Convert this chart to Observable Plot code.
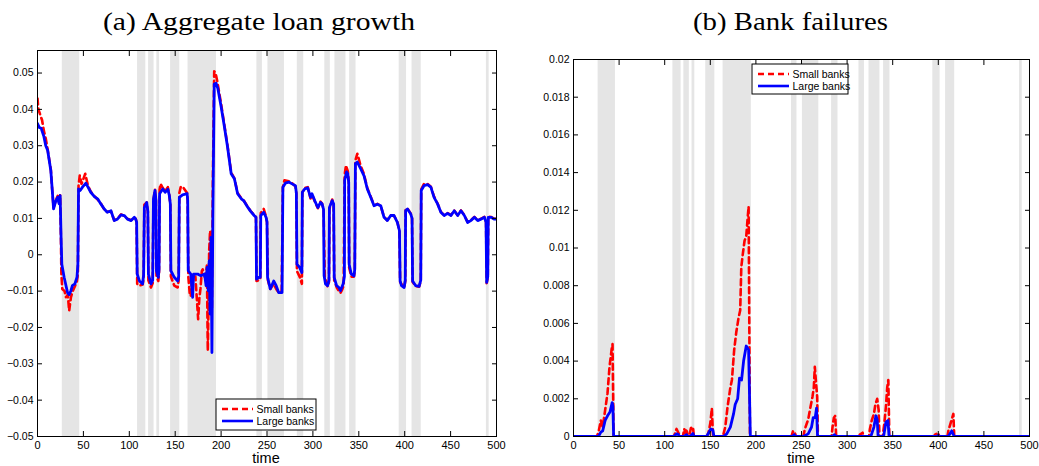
<!DOCTYPE html>
<html>
<head>
<meta charset="utf-8">
<script src="https://cdn.jsdelivr.net/npm/d3@7"></script>
<script src="https://cdn.jsdelivr.net/npm/@observablehq/plot@0.6"></script>
<style>
  html, body { margin: 0; padding: 0; background: #fff; }
  #wrap { position: relative; width: 1039px; height: 466px; overflow: hidden; background: #fff; }
  #wrap > svg, #wrap > div { position: absolute; }
</style>
</head>
<body>
<div id="wrap"></div>
<script>
// ---------- Data ----------
const recessionStart = [27, 109, 121, 130, 145, 164, 239, 251, 283, 313, 324, 340, 394, 408, 489];
const recessionEnd   = [46, 118, 127, 133, 155, 195, 245, 269, 290, 319, 336, 347, 402, 418, 492];

const xTicks = [0, 50, 100, 150, 200, 250, 300, 350, 400, 450, 500];
const xTickLabels = ["0", "50", "100", "150", "200", "250", "300", "350", "400", "450", "500"];
const loanYTicks = [-0.05, -0.04, -0.03, -0.02, -0.01, 0, 0.01, 0.02, 0.03, 0.04, 0.05];
const loanYTickLabels = ["−0.05", "−0.04", "−0.03", "−0.02", "−0.01", "0", "0.01", "0.02", "0.03", "0.04", "0.05"];
const failYTicks = [0, 0.002, 0.004, 0.006, 0.008, 0.01, 0.012, 0.014, 0.016, 0.018, 0.02];
const failYTickLabels = ["0", "0.002", "0.004", "0.006", "0.008", "0.01", "0.012", "0.014", "0.016", "0.018", "0.02"];

const seriesNames = ["Small banks", "Large banks"];

// (a) Aggregate loan growth — large banks
const loanTimeLarge = [0, 2, 4, 7, 9, 11, 14.5, 16, 17.5, 19, 20, 22, 23, 23.6, 24.7, 25.5, 26.5, 29, 32.7, 34.5, 36.4, 38, 40.7, 43, 44,
  44.7, 46.5, 49, 52.7, 55, 58, 62, 65.5, 69, 72.7, 76, 80, 83.6, 87, 91, 94.5, 98, 102, 105.5, 107, 108,
  108.6, 111, 114.5, 115.6, 116.4, 119, 120.2, 120.8, 123.6, 125.5, 126.3, 128, 129, 129.6, 131.6, 132.4,
  133, 136.4, 139, 142, 143.6, 144.7, 145.3, 149, 152.7, 153.8, 154.5, 158, 163, 163.6,
  164.2, 167, 169, 170, 174.5, 178, 182, 183.6, 184.7, 186, 187, 188, 189, 190, 191, 192.5,
  194.5, 196.4, 200, 203.6, 207, 211, 214.5, 218, 222, 224.5, 229, 232, 236, 238,
  238.6, 241, 242.7, 243.2, 246.4, 249, 250, 250.6, 253.6, 257.3, 260, 262.7, 266.4,
  267.3, 270, 273.7, 277.3, 281, 282, 282.6, 285.5, 288, 288.5, 291, 294.4, 297.4, 299, 302.8, 305.4, 308.3, 310, 311.6,
  312.2, 313.7, 316, 317.5, 318, 321, 322.6, 323.2, 325.8, 328.3, 330, 333, 334.3,
  334.6, 336.7, 338, 339, 339.5, 341.8, 344.7, 345.6,
  346.3, 348.4, 352, 355.6, 359.3, 363, 366.6, 370.2, 373.9, 377.5, 381, 384.8, 388.4, 392, 394.3,
  395, 396.5, 399.4, 400.6, 401, 403, 406.6, 408, 408.6, 412, 415.7, 417.5,
  418, 421, 424.8, 428.5, 432, 435.8, 439.4, 443, 446.7, 450.4, 454, 457.7, 461.3, 465, 468.5, 472, 475.9, 479.5, 483, 486.8, 488.6,
  489.3, 490.5, 491, 494, 497.7, 500];
const loanLarge = [0.0361, 0.0350, 0.0348, 0.0325, 0.0300, 0.0288, 0.0232, 0.0180, 0.0126, 0.0140, 0.0149, 0.0158, 0.0145, 0.0140, 0.0163, 0.0066, -0.0026, -0.0062, -0.0104, -0.0110, -0.0099, -0.0085, -0.0080, -0.0062, -0.0026,
  0.0181, 0.0177, 0.0186, 0.0197, 0.0186, 0.0172, 0.0160, 0.0154, 0.0140, 0.0126, 0.0117, 0.0121, 0.0094, 0.0098, 0.0110, 0.0108, 0.0098, 0.0094, 0.0103, 0.0098, 0.0090,
  -0.0053, -0.0072, -0.0080, -0.0055, 0.0130, 0.0144, 0.0120, -0.0053, -0.0080, -0.0070, 0.0153, 0.0177, 0.0150, -0.0044, -0.0062, -0.0040,
  0.0168, 0.0181, 0.0172, 0.0180, 0.0163, 0.0140, -0.0044, -0.0062, -0.0072, -0.0060, 0.0158, 0.0165, 0.0168, 0.0150,
  -0.0044, -0.0053, -0.0117, -0.0053, -0.0053, -0.0058, -0.0053, -0.0085, -0.0035, -0.0099, -0.0017, -0.0163, 0.0048, -0.0269, 0.0100, 0.0470,
  0.0472, 0.0458, 0.0408, 0.0352, 0.0297, 0.0223, 0.0209, 0.0168, 0.0154, 0.0149, 0.0131, 0.0120, 0.0108, 0.0103,
  -0.0067, -0.0062, -0.0062, 0.0108, 0.0117, 0.0103, 0.0090, -0.0062, -0.0094, -0.0072, -0.0085, -0.0104, -0.0104,
  0.0186, 0.0197, 0.0200, 0.0195, 0.0190, 0.0170, -0.0026, -0.0035, -0.0049, 0.0172, 0.0181, 0.0184, 0.0158, 0.0168, 0.0144, 0.0130, 0.0144, 0.0140, 0.0125,
  -0.0058, -0.0080, -0.0085, -0.0070, 0.0130, 0.0149, 0.0140, -0.0062, -0.0085, -0.0090, -0.0099, -0.0080, -0.0060,
  0.0205, 0.0228, 0.0223, 0.0200, -0.0026, -0.0053, -0.0058, -0.0040,
  0.0251, 0.0255, 0.0237, 0.0218, 0.0181, 0.0158, 0.0135, 0.0139, 0.0135, 0.0103, 0.0094, 0.0108, 0.0108, 0.0089, 0.0066,
  -0.0072, -0.0085, -0.0090, -0.0070, 0.0121, 0.0126, 0.0112, 0.0100, -0.0072, -0.0085, -0.0087, -0.0070,
  0.0177, 0.0190, 0.0193, 0.0186, 0.0158, 0.0140, 0.0117, 0.0108, 0.0114, 0.0108, 0.0121, 0.0108, 0.0121, 0.0108, 0.0089, 0.0094, 0.0103, 0.0094, 0.0098, 0.0103, 0.0090,
  -0.0076, -0.0060, 0.0103, 0.0103, 0.0098, 0.0098];

// (a) Aggregate loan growth — small banks
const loanTimeSmall = [0, 1, 3, 5, 7, 9, 11, 14.5, 16, 17.5, 20, 22, 23.6, 24.7, 25.5, 26, 27, 29.5, 31, 33, 34.5, 36.4, 38.5, 41, 43, 44,
  44.7, 46, 48, 52, 55, 58, 62, 65.5, 69, 72.7, 76, 80, 83.6, 87, 91, 94.5, 98, 102, 105.5, 107, 108,
  108.6, 111, 114.5, 115.6, 116.4, 119, 120.2, 120.8, 123.6, 125.5, 126.3, 128, 129, 129.6, 131.6, 132.4,
  133, 134, 136.4, 139, 142, 143.6, 144.7, 145.3, 149, 152.7, 153.8, 154.5, 156, 158, 163, 163.6,
  164.3, 166, 167, 168.5, 172, 175, 176.3, 177.5, 179, 180, 182, 183.6, 184.5, 185.5, 186.5, 187, 188, 189, 190, 191, 192.5,
  194, 196, 200, 203.6, 207, 211, 214.5, 218, 222, 224.5, 229, 232, 236, 238,
  238.6, 241, 242.7, 243.2, 246.4, 249, 250, 251, 253.6, 257.3, 260, 262.7, 266,
  267.3, 269, 273.7, 277.3, 281, 282, 282.6, 285.5, 288, 288.5, 291, 294.4, 297.4, 299, 302.8, 305.4, 308.3, 310, 311.6,
  313, 316, 317.5, 318, 321, 322.6, 323.2, 326, 328.3, 330, 332, 333.5,
  334.6, 336, 338, 339, 339.5, 341.8, 344.7, 345.6,
  346.3, 348.4, 352, 355.6, 359.3, 363, 366.6, 370.2, 373.9, 377.5, 381, 384.8, 388.4, 392, 394.3,
  395, 399.4, 400.6, 401, 403, 406.6, 408, 408.6, 412, 415.7, 417.5,
  418, 421, 424.8, 428.5, 432, 435.8, 439.4, 443, 446.7, 450.4, 454, 457.7, 461.3, 465, 468.5, 472, 475.9, 479.5, 483, 486.8, 488.6,
  489.3, 490.5, 491, 494, 497.7, 500];
const loanSmall = [0.0430, 0.0400, 0.0385, 0.0370, 0.0340, 0.0320, 0.0290, 0.0235, 0.0180, 0.0130, 0.0150, 0.0162, 0.0145, 0.0165, 0.0050, -0.0053, -0.0094, -0.0100, -0.0117, -0.0110, -0.0154, -0.0117, -0.0099, -0.0085, -0.0072, -0.0053,
  0.0190, 0.0218, 0.0195, 0.0223, 0.0190, 0.0174, 0.0161, 0.0152, 0.0141, 0.0125, 0.0118, 0.0120, 0.0095, 0.0099, 0.0111, 0.0107, 0.0099, 0.0095, 0.0102, 0.0099, 0.0088,
  -0.0080, -0.0085, -0.0082, -0.0065, 0.0138, 0.0144, 0.0118, -0.0070, -0.0090, -0.0078, 0.0150, 0.0180, 0.0148, -0.0060, -0.0072, -0.0050,
  0.0180, 0.0195, 0.0184, 0.0175, 0.0186, 0.0165, 0.0138, -0.0060, -0.0085, -0.0090, -0.0070, 0.0170, 0.0186, 0.0188, 0.0170, 0.0148,
  -0.0060, -0.0113, -0.0113, -0.0060, -0.0060, -0.0177, -0.0120, -0.0094, -0.0045, -0.0040, -0.0060, -0.0050, -0.0030, -0.0264, -0.0100, 0.0011, 0.0066, 0.0048, -0.0150, 0.0200, 0.0505,
  0.0500, 0.0475, 0.0415, 0.0356, 0.0300, 0.0226, 0.0210, 0.0170, 0.0155, 0.0150, 0.0132, 0.0121, 0.0109, 0.0104,
  -0.0072, -0.0070, -0.0068, 0.0115, 0.0126, 0.0105, 0.0090, -0.0070, -0.0094, -0.0080, -0.0094, -0.0104, -0.0100,
  0.0186, 0.0205, 0.0202, 0.0197, 0.0188, 0.0168, -0.0045, -0.0060, -0.0080, 0.0172, 0.0184, 0.0186, 0.0155, 0.0166, 0.0142, 0.0128, 0.0146, 0.0141, 0.0124,
  -0.0062, -0.0088, -0.0075, 0.0125, 0.0152, 0.0140, -0.0070, -0.0090, -0.0100, -0.0105, -0.0095, -0.0085,
  0.0220, 0.0246, 0.0230, 0.0205, -0.0035, -0.0060, -0.0060, -0.0045,
  0.0260, 0.0278, 0.0245, 0.0222, 0.0183, 0.0160, 0.0136, 0.0140, 0.0134, 0.0104, 0.0095, 0.0109, 0.0107, 0.0090, 0.0065,
  -0.0075, -0.0092, -0.0072, 0.0126, 0.0128, 0.0113, 0.0100, -0.0075, -0.0086, -0.0088, -0.0072,
  0.0180, 0.0195, 0.0195, 0.0187, 0.0160, 0.0141, 0.0118, 0.0109, 0.0115, 0.0109, 0.0122, 0.0109, 0.0122, 0.0109, 0.0090, 0.0095, 0.0104, 0.0095, 0.0099, 0.0104, 0.0090,
  -0.0078, -0.0062, 0.0105, 0.0104, 0.0099, 0.0099];

// (b) Bank failures — large banks
const failTimeLarge = [0, 27.4, 30, 32, 34.7, 37.3, 40, 42.4, 43.2, 44,
  110, 113, 115, 116, 121, 124, 125, 128, 131, 132,
  146, 150.6, 152.8, 154,
  164.5, 168, 172, 175.5, 177.3, 180, 182, 184.3, 186.5, 189.4, 192, 193.9,
  240, 242, 243, 252, 257.3, 261, 262.8, 265, 266.5, 267.6,
  284, 286, 288, 326, 329.4, 331.6, 333, 334, 340, 342.6, 344.8, 346,
  398, 400, 401, 411, 414.7, 416.5, 417.5, 500];
const failLarge = [0, 0, 0.00023, 0.0003, 0.00085, 0.0011, 0.0013, 0.0018, 0.0016, 0,
  0, 0.00014, 0.0001, 0, 0, 0.0001, 0, 0, 0.00016, 0,
  0, 0.0004, 0.00035, 0,
  0, 0.00014, 0.0005, 0.0012, 0.0017, 0.0020, 0.0031, 0.0030, 0.0040, 0.0048, 0.0046, 0,
  0, 0.0001, 0, 0, 0.00014, 0.0005, 0.0010, 0.0010, 0.0015, 0,
  0, 0.0001, 0, 0, 0.0005, 0.0011, 0.0009, 0, 0, 0.00076, 0.00085, 0,
  0, 0.00005, 0, 0, 0.0003, 0.0001, 0, 0];

// (b) Bank failures — small banks
const failTimeSmall = [0, 25.6, 27.4, 30, 32, 34.7, 37.3, 39.5, 42, 42.8, 44,
  110, 113, 115, 117, 120, 121.4, 123, 124, 125, 127, 128.7, 131, 132,
  146, 148, 150, 151.7, 153,
  163.8, 166.4, 169, 172, 173.7, 176.2, 178.4, 181, 182.8, 184, 185.7, 187.6, 189.4, 190.8, 192, 193.5,
  239, 240.8, 242.7, 244, 252, 253.7, 257.3, 260, 262, 263.5, 264.6, 265.7, 267.2, 268,
  283, 284, 285.5, 287, 288, 313, 314, 317, 318,
  324, 325, 327, 329.4, 331, 333, 334.6, 335.5, 339, 340.8, 342.6, 344, 345.2, 346.3,
  395, 396.4, 400, 401, 410, 411, 412.9, 414.7, 416.5, 417.5, 500];
const failSmall = [0, 0, 0.00023, 0.00085, 0.0005, 0.0014, 0.0023, 0.0037, 0.0047, 0.0049, 0,
  0, 0.0004, 0.0002, 0, 0, 0.0004, 0.0002, 0.0004, 0, 0, 0.00045, 0.0005, 0,
  0, 0.0002, 0.0007, 0.0015, 0,
  0, 0.0005, 0.0016, 0.0026, 0.0030, 0.0046, 0.0055, 0.0063, 0.0067, 0.0090, 0.0097, 0.0104, 0.0106, 0.0115, 0.0122, 0,
  0, 0.0003, 0.0002, 0, 0, 0.0004, 0.0009, 0.0016, 0.0021, 0.0026, 0.0037, 0.0030, 0.0021, 0,
  0, 0.0005, 0.0010, 0.0011, 0, 0, 0.0001, 0.0002, 0,
  0, 0.0004, 0.00085, 0.0012, 0.0017, 0.0020, 0.0014, 0, 0, 0.0007, 0.0016, 0.0026, 0.0030, 0,
  0, 0.0001, 0.0002, 0, 0, 0.0003, 0.0006, 0.0009, 0.0012, 0, 0];

// ---------- Build tables ----------
const bands = recessionStart.map((s, i) => ({start: s, end: recessionEnd[i]}));
const toRows = (ts, vs) => ts.map((t, i) => ({t, v: vs[i]}));
const loanSmallRows = toRows(loanTimeSmall, loanSmall);
const loanLargeRows = toRows(loanTimeLarge, loanLarge);
const failSmallRows = toRows(failTimeSmall, failSmall);
const failLargeRows = toRows(failTimeLarge, failLarge);

const RED = "#ff0000", BLUE = "#0000ff", BAND = "#e5e5e5";
const lookup = (ticks, labels) => d => { const i = ticks.findIndex(t => Math.abs(t - d) < 1e-9); return i >= 0 ? labels[i] : ""; };
const FONT = "'Liberation Sans', Arial, Helvetica, sans-serif";

function panel({width, height, margins, yDomain, yTicks, yLabels, small, large}) {
  return Plot.plot({
    width, height, ...margins,
    x: {domain: [0, 500]},
    y: {domain: yDomain},
    style: {fontFamily: FONT, fontSize: "11px", color: "black", background: "transparent", overflow: "visible"},
    marks: [
      Plot.rect(bands, {x1: "start", x2: "end", fill: BAND}),
      Plot.line(small, {x: "t", y: "v", stroke: RED, strokeWidth: 2.6, strokeDasharray: "6,4", clip: true}),
      Plot.line(large, {x: "t", y: "v", stroke: BLUE, strokeWidth: 2.8, clip: true}),
      Plot.frame({stroke: "black", strokeWidth: 1}),
      // inward ticks on all four sides
      Plot.axisX({anchor: "bottom", ticks: xTicks, tickSize: 5, dy: -5, fill: "none", label: null}),
      Plot.axisX({anchor: "top", ticks: xTicks, tickSize: 5, dy: 5, fill: "none", label: null}),
      Plot.axisY({anchor: "left", ticks: yTicks, tickSize: 5, dx: 5, fill: "none", label: null}),
      Plot.axisY({anchor: "right", ticks: yTicks, tickSize: 5, dx: -5, fill: "none", label: null}),
      // labels
      Plot.axisX({anchor: "bottom", ticks: xTicks, tickSize: 0, tickPadding: 5, tickFormat: lookup(xTicks, xTickLabels), label: null, fontSize: 11}),
      Plot.axisY({anchor: "left", ticks: yTicks, tickSize: 0, tickPadding: 4, tickFormat: lookup(yTicks, yLabels), label: null, fontSize: 10.5})
    ]
  });
}

const wrap = document.getElementById("wrap");

const left = panel({
  width: 520, height: 426,
  margins: {marginTop: 10, marginRight: 24, marginBottom: 30, marginLeft: 37},
  yDomain: [-0.05, 0.0562], yTicks: loanYTicks, yLabels: loanYTickLabels,
  small: loanSmallRows, large: loanLargeRows
});
left.style.position = "absolute"; left.style.left = "0px"; left.style.top = "40px";
wrap.appendChild(left);

const right = panel({
  width: 519, height: 426,
  margins: {marginTop: 19, marginRight: 10, marginBottom: 30, marginLeft: 53},
  yDomain: [0, 0.02], yTicks: failYTicks, yLabels: failYTickLabels,
  small: failSmallRows, large: failLargeRows
});
right.style.position = "absolute"; right.style.left = "520px"; right.style.top = "40px";
wrap.appendChild(right);

// ---------- Overlay: titles, axis names, legends ----------
const ns = "http://www.w3.org/2000/svg";
const ov = document.createElementNS(ns, "svg");
ov.setAttribute("width", 1039); ov.setAttribute("height", 466);
ov.style.left = "0px"; ov.style.top = "0px"; ov.style.position = "absolute";
wrap.appendChild(ov);
function el(tag, attrs, text) {
  const e = document.createElementNS(ns, tag);
  for (const k in attrs) e.setAttribute(k, attrs[k]);
  if (text != null) e.textContent = text;
  ov.appendChild(e);
  return e;
}
const titles = ["(a) Aggregate loan growth", "(b) Bank failures"];
el("text", {x: 103, y: 29.5, "font-family": "'Liberation Serif', 'DejaVu Serif', serif", "font-size": 24.5, textLength: 312, lengthAdjust: "spacingAndGlyphs", fill: "#000"}, titles[0]);
el("text", {x: 693, y: 29.5, "font-family": "'Liberation Serif', 'DejaVu Serif', serif", "font-size": 24.5, textLength: 195, lengthAdjust: "spacingAndGlyphs", fill: "#000"}, titles[1]);
el("text", {x: 266, y: 463, "text-anchor": "middle", "font-family": FONT, "font-size": 14.5, fill: "#000"}, "time");
el("text", {x: 801, y: 463, "text-anchor": "middle", "font-family": FONT, "font-size": 14.5, fill: "#000"}, "time");

function legend(x, y, w, h) {
  el("rect", {x, y, width: w, height: h, fill: "#fff", stroke: "#000", "stroke-width": 1});
  const colors = [RED, BLUE];
  const dashes = ["6,4", null];
  seriesNames.forEach((name, i) => {
    const ly = y + 10 + i * 12;
    const a = {x1: x + 6, x2: x + 37, y1: ly, y2: ly, stroke: colors[i], "stroke-width": 2.6};
    if (dashes[i]) a["stroke-dasharray"] = dashes[i];
    el("line", a);
    el("text", {x: x + 40.5, y: ly + 3.6, "font-family": FONT, "font-size": 10.5, fill: "#000"}, name);
  });
}
legend(216, 399, 100, 31);
legend(752, 64, 96, 30);
</script>
</body>
</html>
